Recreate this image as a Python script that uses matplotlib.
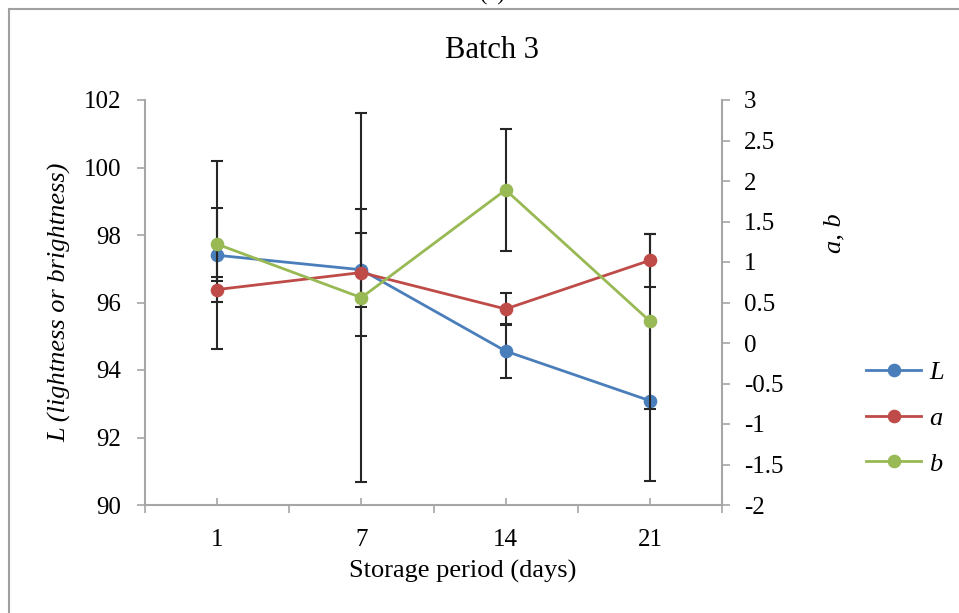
import numpy as np
import matplotlib as mpl
mpl.use('Agg')
import matplotlib.pyplot as plt
from matplotlib.patches import Rectangle
from matplotlib.ticker import FixedLocator

mpl.rcParams['font.family'] = ['Liberation Serif', 'DejaVu Serif']

# storage days (categories)
days = ['1', '7', '14', '21']

# L (left axis) with error
L_mean = [97.40, 96.97, 94.56, 93.09]
L_err = [2.78, 1.10, 0.79, 2.37]

# a and b (right axis) with error
a_mean = [0.66, 0.87, 0.42, 1.02]
a_err = [0.15, 0.78, 0.20, 0.33]
b_mean = [1.22, 0.56, 1.89, 0.27]
b_err = [0.45, 2.28, 0.75, 1.08]

blue = '#4a7ebb'
red = '#be4b48'
green = '#98b954'
grey = '#a6a6a6'
ebar = '#262626'


def main():
    fig = plt.figure(figsize=(9.59, 6.13), dpi=100)
    W, H = 959.0, 613.0

    # outer frame, only top and left visible
    fig.patches.append(Rectangle((9 / W, -0.1), 1.2, 1.1 - 9 / H,
                                 transform=fig.transFigure, fill=False,
                                 edgecolor='#a0a0a0', linewidth=1.5))
    fig.text(492 / W, 1 + 4 / H, '(c)', ha='center', va='center', fontsize=16)

    ax = fig.add_axes([145 / W, 1 - 505 / H, 577 / W, 405 / H])
    ax2 = ax.twinx()
    x = np.arange(len(days))

    ax.errorbar(x, L_mean, yerr=L_err, fmt='none', ecolor=ebar,
                elinewidth=1.5, capsize=4, capthick=1.5, zorder=2)
    ax2.errorbar(x, a_mean, yerr=a_err, fmt='none', ecolor=ebar,
                 elinewidth=1.5, capsize=4, capthick=1.5, zorder=2)
    ax2.errorbar(x, b_mean, yerr=b_err, fmt='none', ecolor=ebar,
                 elinewidth=1.5, capsize=4, capthick=1.5, zorder=2)

    l1, = ax.plot(x, L_mean, '-o', color=blue, lw=2.0, ms=8.8, zorder=3,
                  label='L')
    l2, = ax2.plot(x, a_mean, '-o', color=red, lw=2.0, ms=8.8, zorder=3,
                   label='a')
    l3, = ax2.plot(x, b_mean, '-o', color=green, lw=2.0, ms=8.8, zorder=3,
                   label='b')

    ax.set_xlim(-0.5, 3.5)
    ax.set_ylim(90, 102)
    ax.set_yticks(np.arange(90, 103, 2))
    ax2.set_ylim(-2, 3)
    ax2.set_yticks(np.arange(-2, 3.01, 0.5))
    ax2.set_yticklabels(['%g' % v for v in np.arange(-2, 3.01, 0.5)])

    ax.set_xticks(x)
    ax.set_xticklabels(days)
    ax.xaxis.set_minor_locator(FixedLocator(np.arange(-0.5, 3.6, 1)))
    ax.tick_params(axis='x', which='major', direction='in', length=5,
                   width=1.2, color=grey, pad=17, labelsize=18)
    ax.tick_params(axis='x', which='minor', direction='out', length=6,
                   width=1.2, color=grey)
    ax.tick_params(axis='y', direction='out', length=6, width=1.2,
                   color=grey, pad=11, labelsize=18)
    ax2.tick_params(axis='y', direction='out', length=6, width=1.2,
                    color=grey, pad=10, labelsize=18)

    for a in (ax, ax2):
        a.spines['top'].set_visible(False)
        for s in ('left', 'right', 'bottom'):
            a.spines[s].set_color(grey)
            a.spines[s].set_linewidth(1.5)
    ax.spines['right'].set_visible(False)
    ax2.spines['left'].set_visible(False)
    ax2.spines['bottom'].set_visible(False)

    ax.set_ylabel('L (lightness or brightness)', fontsize=19, style='italic')
    ax.yaxis.set_label_coords(-0.128, 0.5)
    ax2.set_ylabel('a, b', fontsize=19, style='italic', rotation=90)
    ax2.yaxis.set_label_coords(1.175, 0.672)
    ax.set_xlabel('Storage period (days)', fontsize=19)
    ax.xaxis.set_label_coords(0.55, -0.135)

    fig.text(492 / W, 1 - 50 / H, 'Batch 3', ha='center', va='center',
             fontsize=22)

    leg = fig.legend(handles=[l1, l2, l3], loc='center left',
                     bbox_to_anchor=(866 / W, 1 - 418 / H), frameon=False,
                     fontsize=19, handlelength=2.1, handletextpad=0.3,
                     labelspacing=0.85, borderpad=0, borderaxespad=0)
    for t in leg.get_texts():
        t.set_fontstyle('italic')

    fig.savefig('out.png', dpi=100)


if __name__ == '__main__':
    main()
